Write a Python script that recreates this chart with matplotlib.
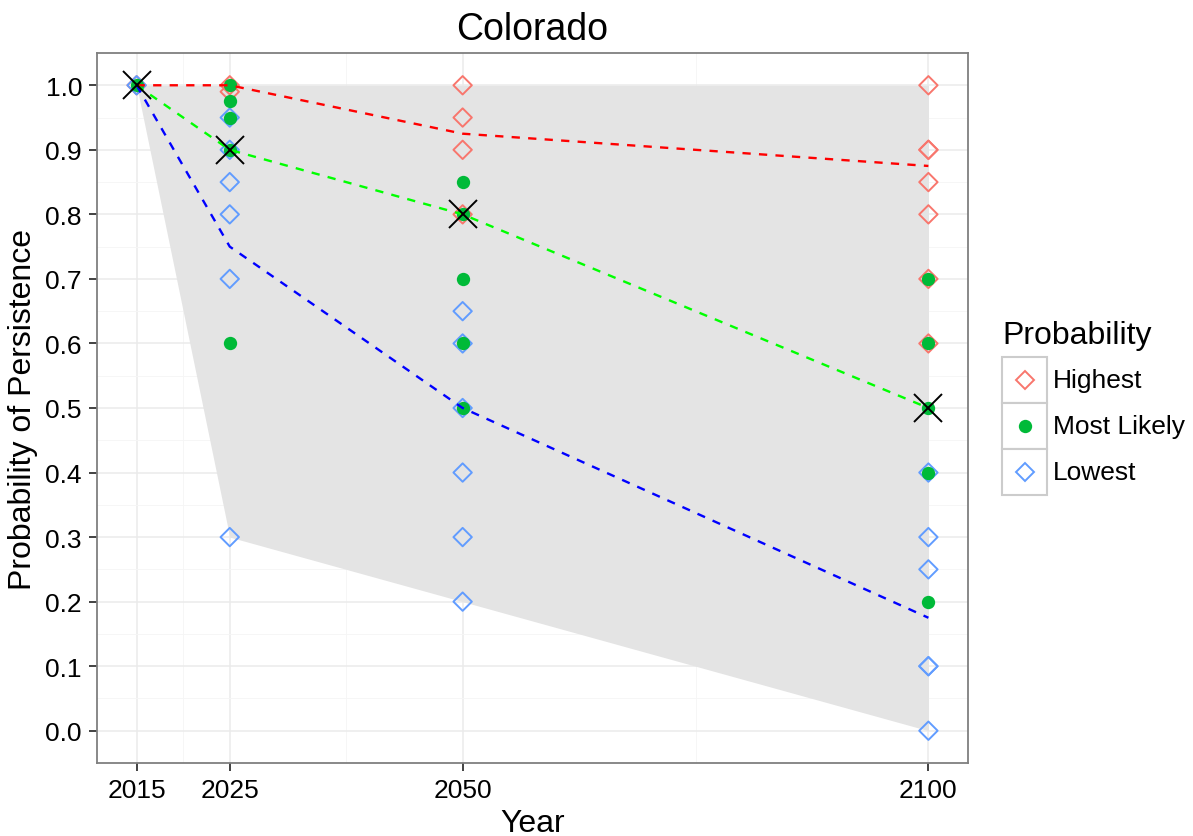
import numpy as np
import matplotlib.pyplot as plt
from matplotlib.lines import Line2D
from matplotlib.patches import Rectangle

plt.rcParams['font.family'] = ['Liberation Sans', 'DejaVu Sans']

# =============================================================================
# 0. Data
# =============================================================================
years = [2015, 2025, 2050, 2100]

# individual estimates per year
highest_year = [2015, 2025, 2025,
                2050, 2050, 2050, 2050,
                2100, 2100, 2100, 2100, 2100, 2100, 2100]
highest_val = [1.0, 1.0, 0.99,
               1.0, 0.95, 0.9, 0.8,
               1.0, 0.9, 0.9, 0.85, 0.8, 0.7, 0.6]

lowest_year = [2015, 2025, 2025, 2025, 2025, 2025, 2025,
               2050, 2050, 2050, 2050, 2050, 2050,
               2100, 2100, 2100, 2100, 2100, 2100]
lowest_val = [1.0, 0.95, 0.9, 0.85, 0.8, 0.7, 0.3,
              0.65, 0.6, 0.5, 0.4, 0.3, 0.2,
              0.4, 0.3, 0.25, 0.1, 0.1, 0.0]

likely_year = [2015, 2025, 2025, 2025, 2025, 2025,
               2050, 2050, 2050, 2050, 2050,
               2100, 2100, 2100, 2100, 2100]
likely_val = [1.0, 1.0, 0.975, 0.95, 0.9, 0.6,
              0.85, 0.8, 0.7, 0.6, 0.5,
              0.7, 0.6, 0.5, 0.4, 0.2]

# summary lines
highest_line = [1.0, 1.0, 0.925, 0.875]
likely_line = [1.0, 0.9, 0.8, 0.5]
lowest_line = [1.0, 0.75, 0.5, 0.175]
best_guess = [1.0, 0.9, 0.8, 0.5]

# envelope
ribbon_low = [1.0, 0.3, 0.2, 0.0]
ribbon_high = [1.0, 1.0, 1.0, 1.0]

col_high = '#F8766D'
col_likely = '#00BA38'
col_low = '#619CFF'

# =============================================================================
# 1. Plot
# =============================================================================
fig = plt.figure(figsize=(11.93, 8.37), dpi=100)
ax = fig.add_axes([97/1193, 1-764/837, (968-97)/1193, (764-54)/837])

ax.set_xlim(2015 - 4.25, 2100 + 4.25)
ax.set_ylim(-0.05, 1.05)
ax.set_xticks(years)
ax.set_xticks([2020, 2037.5, 2075], minor=True)
ax.set_yticks(np.arange(0, 1.01, 0.1))
ax.set_yticks(np.arange(0.05, 1.0, 0.1), minor=True)
ax.set_yticklabels(['%.1f' % v for v in np.arange(0, 1.01, 0.1)])

ax.grid(which='major', color='#EBEBEB', linewidth=1.1, zorder=0)
ax.grid(which='minor', color='#F5F5F5', linewidth=0.6, zorder=0)
ax.set_axisbelow(True)
for s in ax.spines.values():
    s.set_color('#7F7F7F')
    s.set_linewidth(1.3)
ax.tick_params(which='major', length=5.8, width=1.3, color='#333333',
               labelsize=19, labelcolor='black', pad=5)
ax.tick_params(which='minor', length=0)

ax.fill_between(years, ribbon_low, ribbon_high, color='#E4E4E4',
                linewidth=0, zorder=1)

ax.scatter(highest_year, highest_val, marker='D', s=88, facecolors='none',
           edgecolors=col_high, linewidths=1.4, zorder=2)
ax.scatter(lowest_year, lowest_val, marker='D', s=88, facecolors='none',
           edgecolors=col_low, linewidths=1.4, zorder=2)
ax.scatter(likely_year, likely_val, marker='o', s=92, color=col_likely,
           linewidths=0, zorder=2)

ax.plot(years, highest_line, color='red', linewidth=1.7, dashes=(3.5, 3.5), zorder=3)
ax.plot(years, likely_line, color='#00FF00', linewidth=1.7, dashes=(3.5, 3.5), zorder=3)
ax.plot(years, lowest_line, color='blue', linewidth=1.7, dashes=(3.5, 3.5), zorder=3)

ax.plot(years, best_guess, linestyle='none', marker='x', markersize=20,
        markeredgewidth=1.4, color='black', zorder=4)

ax.set_title('Colorado', fontsize=27, pad=10)
ax.set_xlabel('Year', fontsize=23, labelpad=4)
ax.set_ylabel('Probability of Persistence', fontsize=23, labelpad=5)

# legend drawn by hand in figure coordinates
W, H = 1193.0, 837.0
fig.text(1002/W, 1-336/H, 'Probability', fontsize=23, va='center', ha='left')
labels = ['Highest', 'Most Likely', 'Lowest']
for i, lab in enumerate(labels):
    y0 = 358 + i*46
    fig.patches.append(Rectangle((1002/W, 1-(y0+46)/H), 45/W, 46/H,
                                 transform=fig.transFigure, facecolor='white',
                                 edgecolor='#CCCCCC', linewidth=1.5))
    cx, cy = 1024.5/W, 1-(y0+23)/H
    if i == 1:
        m = Line2D([cx], [cy], marker='o', markersize=9.6, color=col_likely,
                   markeredgewidth=0, linestyle='none', transform=fig.transFigure)
    else:
        c = col_high if i == 0 else col_low
        m = Line2D([cx], [cy], marker='D', markersize=9.4, markerfacecolor='none',
                   markeredgecolor=c, markeredgewidth=1.4, linestyle='none',
                   transform=fig.transFigure)
    fig.lines.append(m)
    fig.text(1053/W, cy, lab, fontsize=19, va='center', ha='left')

fig.savefig('out.png', dpi=100)
